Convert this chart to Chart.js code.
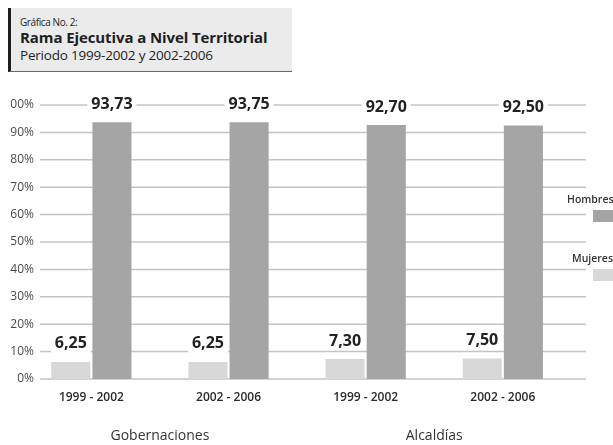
<!DOCTYPE html>
<html>
<head>
<meta charset="utf-8">
<script src="https://cdn.jsdelivr.net/npm/chart.js@4.4.1/dist/chart.umd.min.js"></script>
<style>
    html, body { margin: 0; padding: 0; background: #fff; }
    #wrap { position: relative; width: 613px; height: 445px; overflow: hidden; }
    #chart { position: absolute; left: 0; top: 0; }
    #titleBox {
        position: absolute; left: 8px; top: 8px; width: 281px; height: 63px;
        background: #ebebeb; border-left: 3px solid #1e1e1e; border-bottom: 1.5px solid #6a6a6a;
        font-family: "Open Sans", sans-serif; color: #1e1e1e;
    }
    #titleBox .small { position: absolute; left: 9px; top: 7px; font-size: 10px; letter-spacing: -0.4px; white-space: nowrap; }
    #titleBox .main { position: absolute; left: 9px; top: 19px; font-size: 15px; font-weight: 700; letter-spacing: -0.1px; white-space: nowrap; }
    #titleBox .sub { position: absolute; left: 9px; top: 38px; font-size: 13.5px; letter-spacing: -0.2px; white-space: nowrap; }
</style>
</head>
<body>
<div id="wrap">
    <canvas id="chart" width="613" height="445"></canvas>
    <div id="titleBox">
        <div class="small">Gráfica No. 2:</div>
        <div class="main">Rama Ejecutiva a Nivel Territorial</div>
        <div class="sub">Periodo 1999-2002 y 2002-2006</div>
    </div>
</div>
<script>
// datos
var periods = ['1999 - 2002', '2002 - 2006', '1999 - 2002', '2002 - 2006'];
var groups = ['Gobernaciones', 'Alcaldías'];
var mujeres = [6.25, 6.25, 7.30, 7.50];
var hombres = [93.73, 93.75, 92.70, 92.50];
var yTicks = [0, 10, 20, 30, 40, 50, 60, 70, 80, 90, 100];
var yTickLabels = ['0%', '10%', '20%', '30%', '40%', '50%', '60%', '70%', '80%', '90%', '00%'];

var FONT = '"Open Sans", sans-serif';

function fmt(v) {
    return v.toFixed(2).replace('.', ',');
}

// lineas de la grilla y etiquetas del eje Y
var gridPlugin = {
    id: 'gridPlugin',
    beforeDatasetsDraw: function(chart) {
        var ctx = chart.ctx;
        var y = chart.scales.y;
        ctx.save();
        ctx.strokeStyle = '#c4c4c4';
        ctx.lineWidth = 1.5;
        ctx.font = '12px ' + FONT;
        ctx.fillStyle = '#4a4a4a';
        ctx.textAlign = 'right';
        ctx.textBaseline = 'middle';
        yTicks.forEach(function(t, i) {
            var py = y.getPixelForValue(t);
            ctx.beginPath();
            ctx.moveTo(40, py);
            ctx.lineTo(586, py);
            ctx.stroke();
            ctx.fillText(yTickLabels[i], 34, py);
        });
        ctx.restore();
    }
};

// valores sobre las barras, etiquetas X, grupos y leyenda
var labelPlugin = {
    id: 'labelPlugin',
    afterDatasetsDraw: function(chart) {
        var ctx = chart.ctx;
        var x = chart.scales.x;
        ctx.save();
        ctx.textAlign = 'center';
        ctx.textBaseline = 'middle';

        ctx.font = 'bold 16px ' + FONT;
        chart.data.datasets.forEach(function(ds, di) {
            chart.getDatasetMeta(di).data.forEach(function(bar, i) {
                var txt = fmt(ds.data[i]);
                var w = ctx.measureText(txt).width;
                var ly = bar.y - 18;
                ctx.fillStyle = '#ffffff';
                ctx.fillRect(bar.x - w / 2 - 4, ly - 9, w + 8, 18);
                ctx.fillStyle = '#222222';
                ctx.fillText(txt, bar.x, ly);
            });
        });

        ctx.font = '600 12px ' + FONT;
        ctx.fillStyle = '#2a2a2a';
        periods.forEach(function(p, i) {
            ctx.fillText(p, x.getPixelForValue(i), 398);
        });

        ctx.font = '14px ' + FONT;
        ctx.fillStyle = '#333333';
        groups.forEach(function(g, gi) {
            var cx = (x.getPixelForValue(gi * 2) + x.getPixelForValue(gi * 2 + 1)) / 2;
            ctx.fillText(g, cx, 436);
        });

        // leyenda
        var legend = [chart.data.datasets[1], chart.data.datasets[0]];
        var legendY = [200, 259];
        ctx.font = '600 10.5px ' + FONT;
        ctx.textAlign = 'left';
        legend.forEach(function(ds, i) {
            ctx.fillStyle = '#333333';
            ctx.fillText(ds.label, i === 0 ? 567 : 572, legendY[i]);
            ctx.fillStyle = ds.backgroundColor;
            ctx.fillRect(593, legendY[i] + 10, 22, 12);
        });
        ctx.restore();
    }
};

var ctx = document.getElementById('chart').getContext('2d');
var chart = new Chart(ctx, {
    type: 'bar',
    data: {
        labels: periods,
        datasets: [
            {
                label: 'Mujeres',
                data: mujeres,
                backgroundColor: '#d8d8d8',
                barPercentage: 0.95,
                categoryPercentage: 0.6
            },
            {
                label: 'Hombres',
                data: hombres,
                backgroundColor: '#a5a5a5',
                barPercentage: 0.95,
                categoryPercentage: 0.6
            }
        ]
    },
    options: {
        responsive: false,
        animation: false,
        layout: {
            padding: { left: 22.8, right: 41.6, top: 105, bottom: 66 }
        },
        plugins: {
            legend: { display: false },
            tooltip: { enabled: false }
        },
        scales: {
            x: { display: false },
            y: { display: false, min: 0, max: 100 }
        }
    },
    plugins: [gridPlugin, labelPlugin]
});
</script>
</body>
</html>
